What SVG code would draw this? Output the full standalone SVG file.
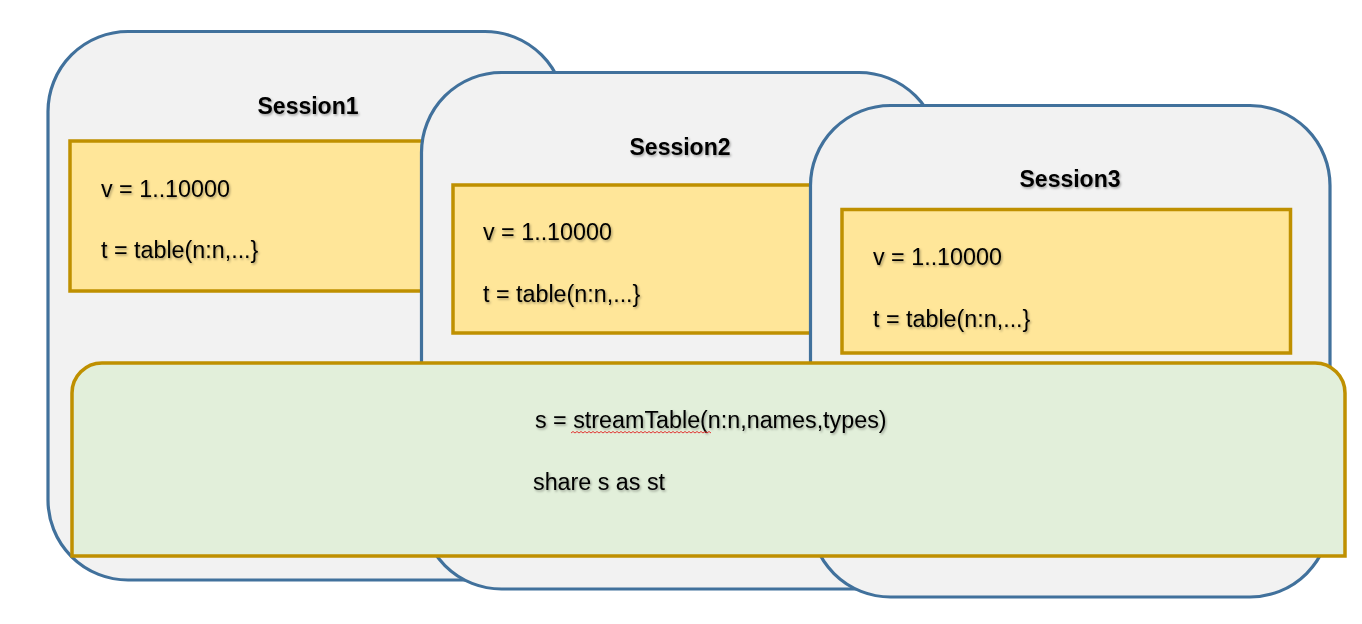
<svg xmlns="http://www.w3.org/2000/svg" width="1362" height="624" viewBox="0 0 1362 624">
<defs>
<filter id="ts" x="-10%" y="-30%" width="120%" height="160%">
<feDropShadow dx="1.2" dy="1.5" stdDeviation="0.9" flood-color="#000" flood-opacity="0.35"/>
</filter>
<style>
.session{fill:#F2F2F2;stroke:#41719C;stroke-width:3.2}
.local{fill:#FFE699;stroke:#BF9000;stroke-width:3.5}
.shared{fill:#E2EFDA;stroke:#BF9000;stroke-width:3.5}
.title{font-family:"Liberation Sans",Arial,sans-serif;font-weight:bold;font-size:23px;fill:#000;text-anchor:middle}
.code{font-family:"Liberation Sans",Arial,sans-serif;font-size:23.3px;fill:#000}
.fx{filter:url(#ts)}
</style>
</defs>
<rect width="1362" height="624" fill="#FFFFFF"/>
<g id="session1">
<rect class="session" x="48" y="31.5" width="517" height="548.5" rx="80" ry="80"/>
<text class="title fx" x="308" y="114">Session1</text>
<rect class="local" x="70" y="141" width="380" height="150"/>
<text class="code fx" x="101" y="197">v = 1..10000</text>
<text class="code fx" x="101" y="258">t = table(n:n,...}</text>
</g>
<g id="session2">
<rect class="session" x="421.5" y="72.5" width="517.5" height="516.5" rx="80" ry="80"/>
<text class="title fx" x="680" y="155">Session2</text>
<rect class="local" x="453" y="185" width="380" height="148"/>
<text class="code fx" x="483" y="240">v = 1..10000</text>
<text class="code fx" x="483" y="302">t = table(n:n,...}</text>
</g>
<g id="session3">
<rect class="session" x="810.5" y="105.5" width="519.5" height="491.5" rx="80" ry="80"/>
<text class="title fx" x="1070" y="187">Session3</text>
<rect class="local" x="842" y="209.5" width="448.5" height="143.5"/>
<text class="code fx" x="873" y="265">v = 1..10000</text>
<text class="code fx" x="873" y="327">t = table(n:n,...}</text>
</g>
<g id="shared">
<path class="shared" d="M72,556 L72,393 A30,30 0 0 1 102,363 L1315,363 A30,30 0 0 1 1345,393 L1345,556 Z"/>
<text class="code fx" x="535" y="428">s = streamTable(n:n,names,types)</text>
<path fill="none" stroke="#E02020" stroke-width="0.9" d="M571,433 l2,-1.5 l2,1.5 l2,-1.5 l2,1.5 l2,-1.5 l2,1.5 l2,-1.5 l2,1.5 l2,-1.5 l2,1.5 l2,-1.5 l2,1.5 l2,-1.5 l2,1.5 l2,-1.5 l2,1.5 l2,-1.5 l2,1.5 l2,-1.5 l2,1.5 l2,-1.5 l2,1.5 l2,-1.5 l2,1.5 l2,-1.5 l2,1.5 l2,-1.5 l2,1.5 l2,-1.5 l2,1.5 l2,-1.5 l2,1.5 l2,-1.5 l2,1.5 l2,-1.5 l2,1.5 l2,-1.5 l2,1.5 l2,-1.5 l2,1.5 l2,-1.5 l2,1.5 l2,-1.5 l2,1.5 l2,-1.5 l2,1.5 l2,-1.5 l2,1.5 l2,-1.5 l2,1.5 l2,-1.5 l2,1.5 l2,-1.5 l2,1.5 l2,-1.5 l2,1.5 l2,-1.5 l2,1.5 l2,-1.5 l2,1.5 l2,-1.5 l2,1.5 l2,-1.5 l2,1.5 l2,-1.5 l2,1.5 l2,-1.5 l2,1.5 l2,-1.5 l2,1.5"/>
<text class="code fx" x="533" y="490">share s as st</text>
</g>
<g id="connectors"/>
</svg>
